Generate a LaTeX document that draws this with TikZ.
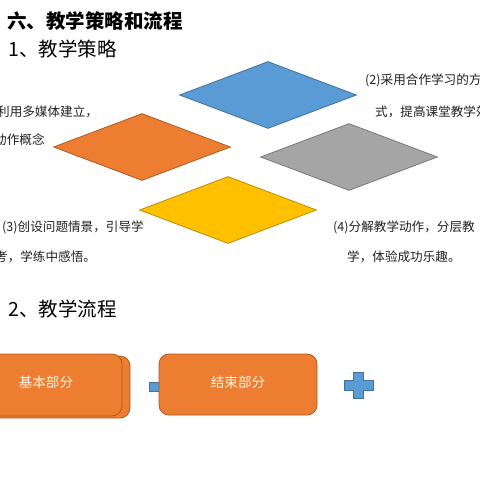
\documentclass[tikz,border=0pt]{standalone}
\usepackage{fontspec}
\setmainfont{Noto Sans CJK SC}
\usepackage{tikz}
\usetikzlibrary{shapes.geometric}

\tikzset{
  notetext/.style={anchor=west,inner sep=0pt,font=\fontsize{12.6}{14}\selectfont,text=ctext},
  headtext/.style={anchor=west,inner sep=0pt,font=\fontsize{19.5}{22}\selectfont,text=black},
  tile/.style={diamond,inner sep=0pt,minimum width=177pt,minimum height=67pt,line width=0.8pt},
  flowbox/.style={rectangle,rounded corners=10pt,draw=cboxline,fill=cbox,line width=0.8pt,
    text=cboxtext,font=\fontsize{13.6}{16}\selectfont,inner sep=0pt}
}

\begin{document}
\begin{tikzpicture}[x=1pt,y=-1pt]
\definecolor{ctext}{rgb}{0.13,0.13,0.13}
\definecolor{cblue}{rgb}{0.357,0.608,0.835}
\definecolor{cblueline}{rgb}{0.255,0.443,0.612}
\definecolor{corange}{rgb}{0.929,0.490,0.192}
\definecolor{corangeline}{rgb}{0.682,0.353,0.129}
\definecolor{cgray}{rgb}{0.647,0.647,0.647}
\definecolor{cgrayline}{rgb}{0.471,0.471,0.471}
\definecolor{cyellow}{rgb}{1.0,0.753,0.0}
\definecolor{cyellowline}{rgb}{0.737,0.549,0.0}
\definecolor{cbox}{rgb}{0.929,0.490,0.192}
\definecolor{cboxline}{rgb}{0.682,0.353,0.129}
\definecolor{cboxtext}{rgb}{1.0,0.96,0.90}
%
\useasboundingbox[fill=white] (0,0) rectangle (480,480);
%
\node[headtext,font=\bfseries\fontsize{19.5}{22}\selectfont] (title) at (7,21) {六、教学策略和流程};
\node[headtext] (strategy) at (8,49) {1、教学策略};
\node[headtext] (process) at (8,309) {2、教学流程};
%
\node[tile,draw=cblueline,fill=cblue] (tileblue) at (268,95) {};
\node[tile,draw=corangeline,fill=corange] (tileorange) at (142,147) {};
\node[tile,draw=cgrayline,fill=cgray] (tilegray) at (349,157) {};
\node[tile,draw=cyellowline,fill=cyellow] (tileyellow) at (228,210) {};
%
\node[notetext] (noteAa) at (-3,112) {利用多媒体建立，};
\node[notetext] (noteAb) at (-6,140) {动作概念};
\node[notetext] (noteBa) at (365,80) {(2)采用合作学习的方};
\node[notetext] (noteBb) at (375,112) {式，提高课堂教学效};
\node[notetext] (noteCa) at (2,227) {(3)创设问题情景，引导学};
\node[notetext] (noteCb) at (-5,257) {考，学练中感悟。};
\node[notetext] (noteDa) at (333,227) {(4)分解教学动作，分层教};
\node[notetext] (noteDb) at (347,257) {学，体验成功乐趣。};
%
\draw[draw=cblueline,fill=cblue,line width=0.6pt] (149,382) rectangle (166,391);
\node[flowbox,minimum width=150pt,minimum height=62pt] (basicback) at (55,387) {};
\node[flowbox,minimum width=152pt,minimum height=62pt,text depth=6pt] (basic) at (46,385) {基本部分};
\node[flowbox,minimum width=158pt,minimum height=61pt,text depth=6pt] (ending) at (238,384.5) {结束部分};
%
\draw[draw=cblueline,fill=cblue,line width=0.6pt]
  (353,372) -- (363,372) -- (363,380) -- (373,380) -- (373,390) -- (363,390)
  -- (363,398) -- (353,398) -- (353,390) -- (344,390) -- (344,380) -- (353,380) -- cycle;
%
\end{tikzpicture}
\end{document}
